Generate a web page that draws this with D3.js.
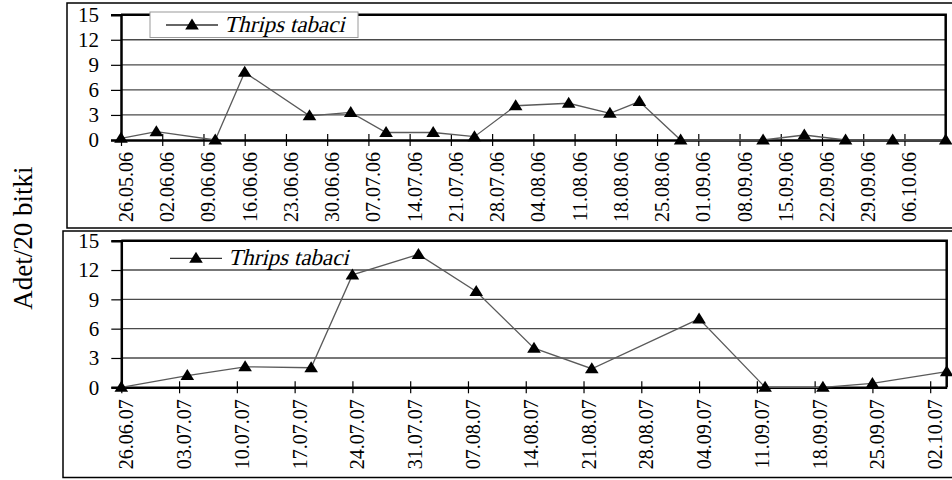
<!DOCTYPE html>
<html>
<head>
<meta charset="utf-8">
<script src="https://cdn.jsdelivr.net/npm/d3@7/dist/d3.min.js"></script>
<style>
  html, body { margin: 0; padding: 0; background: #fff; }
  svg { display: block; }
</style>
</head>
<body>
<svg id="chart" width="952" height="480"></svg>
<script>
// Thrips tabaci counts per 20 plants, 2006 season
const dates2006 = ["26.05.06","01.06.06","11.06.06","16.06.06","27.06.06","04.07.06","10.07.06",
  "18.07.06","25.07.06","01.08.06","10.08.06","17.08.06","22.08.06","29.08.06","12.09.06",
  "19.09.06","26.09.06","04.10.06","13.10.06"];
const values2006 = [0.2, 1.0, 0.0, 8.1, 2.9, 3.3, 0.9, 0.9, 0.4, 4.1, 4.4, 3.2, 4.6, 0.0, 0.0, 0.6, 0.0, 0.0, 0.0];
const ticks2006 = ["26.05.06","02.06.06","09.06.06","16.06.06","23.06.06","30.06.06","07.07.06",
  "14.07.06","21.07.06","28.07.06","04.08.06","11.08.06","18.08.06","25.08.06","01.09.06",
  "08.09.06","15.09.06","22.09.06","29.09.06","06.10.06"];
const range2006 = ["26.05.06", "13.10.06"];

// 2007 season
const dates2007 = ["26.06.07","04.07.07","11.07.07","19.07.07","24.07.07","01.08.07","08.08.07",
  "15.08.07","22.08.07","04.09.07","12.09.07","19.09.07","25.09.07","04.10.07"];
const values2007 = [0.0, 1.2, 2.1, 2.0, 11.5, 13.6, 9.8, 4.0, 1.9, 7.0, 0.0, 0.0, 0.4, 1.6];
const ticks2007 = ["26.06.07","03.07.07","10.07.07","17.07.07","24.07.07","31.07.07","07.08.07",
  "14.08.07","21.08.07","28.08.07","04.09.07","11.09.07","18.09.07","25.09.07","02.10.07"];
const range2007 = ["26.06.07", "04.10.07"];

const yTicks = [0, 3, 6, 9, 12, 15];
const seriesName = "Thrips tabaci";
const yTitle = "Adet/20 bitki";

const FONT = "Liberation Serif";
const parse = d3.timeParse("%d.%m.%y");
const fmt = d3.timeFormat("%d.%m.%y");
const svg = d3.select("#chart");

const tri = "M0,-6.5L6.8,4.5L-6.8,4.5Z";

function panel(cfg) {
  const g = svg.append("g");
  // outer frame
  g.append("rect")
    .attr("x", cfg.frame[0]).attr("y", cfg.frame[1])
    .attr("width", cfg.frame[2]).attr("height", cfg.frame[3])
    .attr("fill", "#fff").attr("stroke", "#000").attr("stroke-width", 1.5);

  const x = d3.scaleTime().domain(cfg.range.map(parse)).range([cfg.left, cfg.right]);
  const y = d3.scaleLinear().domain([0, 15]).range([cfg.bottom, cfg.top]);

  // gridlines
  g.append("g").selectAll("line").data(yTicks.filter(v => v > 0 && v < 15)).join("line")
    .attr("x1", cfg.left).attr("x2", cfg.right)
    .attr("y1", d => y(d)).attr("y2", d => y(d))
    .attr("stroke", "#4a4a4a").attr("stroke-width", 1.3);

  // plot border (top and right)
  g.append("path")
    .attr("d", `M${cfg.left},${y(15)}H${cfg.right}V${y(0)}`)
    .attr("fill", "none").attr("stroke", "#000").attr("stroke-width", 2.5);

  // y axis
  const ya = g.append("g").attr("transform", `translate(${cfg.left},0)`)
    .call(d3.axisLeft(y).tickValues(yTicks).tickSize(10).tickPadding(12));
  ya.select(".domain").attr("stroke", "#000").attr("stroke-width", 2.5);
  ya.selectAll(".tick line").attr("stroke", "#000").attr("stroke-width", 1.2);
  ya.selectAll(".tick text")
    .attr("font-family", FONT).attr("font-size", 21).attr("fill", "#000");

  // x axis: weekly ticks crossing the baseline
  const tickDates = cfg.ticks.map(parse);
  const xa = g.append("g").attr("transform", `translate(0,${cfg.bottom})`)
    .call(d3.axisBottom(x).tickValues(tickDates).tickFormat("").tickSizeOuter(0));
  xa.select(".domain").attr("stroke", "#000").attr("stroke-width", 2.5);
  xa.selectAll(".tick line").attr("y1", -6).attr("y2", 6).attr("stroke", "#000").attr("stroke-width", 1.2);
  xa.selectAll(".tick text").remove();

  // rotated date labels
  g.append("g").selectAll("text").data(tickDates).join("text")
    .attr("transform", d => `translate(${x(d) + 12},${cfg.bottom + 12}) rotate(-90)`)
    .attr("text-anchor", "end")
    .attr("font-family", FONT).attr("font-size", 20).attr("fill", "#000")
    .text(d => fmt(d));

  // series
  const pts = cfg.dates.map((d, i) => ({ date: parse(d), value: cfg.values[i] }));
  g.append("path").datum(pts)
    .attr("d", d3.line().x(d => x(d.date)).y(d => y(d.value)))
    .attr("fill", "none").attr("stroke", "#5a5a5a").attr("stroke-width", 1.3);
  g.append("g").selectAll("path").data(pts).join("path")
    .attr("d", tri)
    .attr("transform", d => `translate(${x(d.date)},${y(d.value)})`)
    .attr("fill", "#000");

  // legend
  const lg = g.append("g");
  if (cfg.legendBox) {
    lg.append("rect")
      .attr("x", cfg.legendBox[0]).attr("y", cfg.legendBox[1])
      .attr("width", cfg.legendBox[2]).attr("height", cfg.legendBox[3])
      .attr("fill", "#fff").attr("stroke", "#9a9a9a").attr("stroke-width", 1);
  }
  const [lx, ly] = cfg.legend;
  lg.append("line").attr("x1", lx).attr("x2", lx + 52).attr("y1", ly).attr("y2", ly)
    .attr("stroke", "#333").attr("stroke-width", 1.3);
  lg.append("path").attr("d", tri).attr("transform", `translate(${lx + 26},${ly})`).attr("fill", "#000");
  // slanted serif for the species name
  lg.append("text")
    .attr("transform", `translate(${lx + 58},${ly + 6.5}) skewX(-14)`)
    .attr("font-family", FONT).attr("font-size", 23).attr("fill", "#000")
    .text(seriesName);
}

panel({
  frame: [67, 3, 890, 225],
  left: 121, right: 945.7, top: 14.7, bottom: 140,
  range: range2006, ticks: ticks2006, dates: dates2006, values: values2006,
  legendBox: [150, 12, 208, 25.5],
  legend: [166, 25]
});

panel({
  frame: [63, 231, 894, 246.5],
  left: 121.3, right: 946.7, top: 240.7, bottom: 387.3,
  range: range2007, ticks: ticks2007, dates: dates2007, values: values2007,
  legendBox: null,
  legend: [170, 258.3]
});

// shared y-axis title
svg.append("text")
  .attr("transform", "translate(31.5,238) rotate(-90)")
  .attr("text-anchor", "middle")
  .attr("font-family", FONT).attr("font-size", 27).attr("fill", "#000")
  .text(yTitle);
</script>
</body>
</html>
